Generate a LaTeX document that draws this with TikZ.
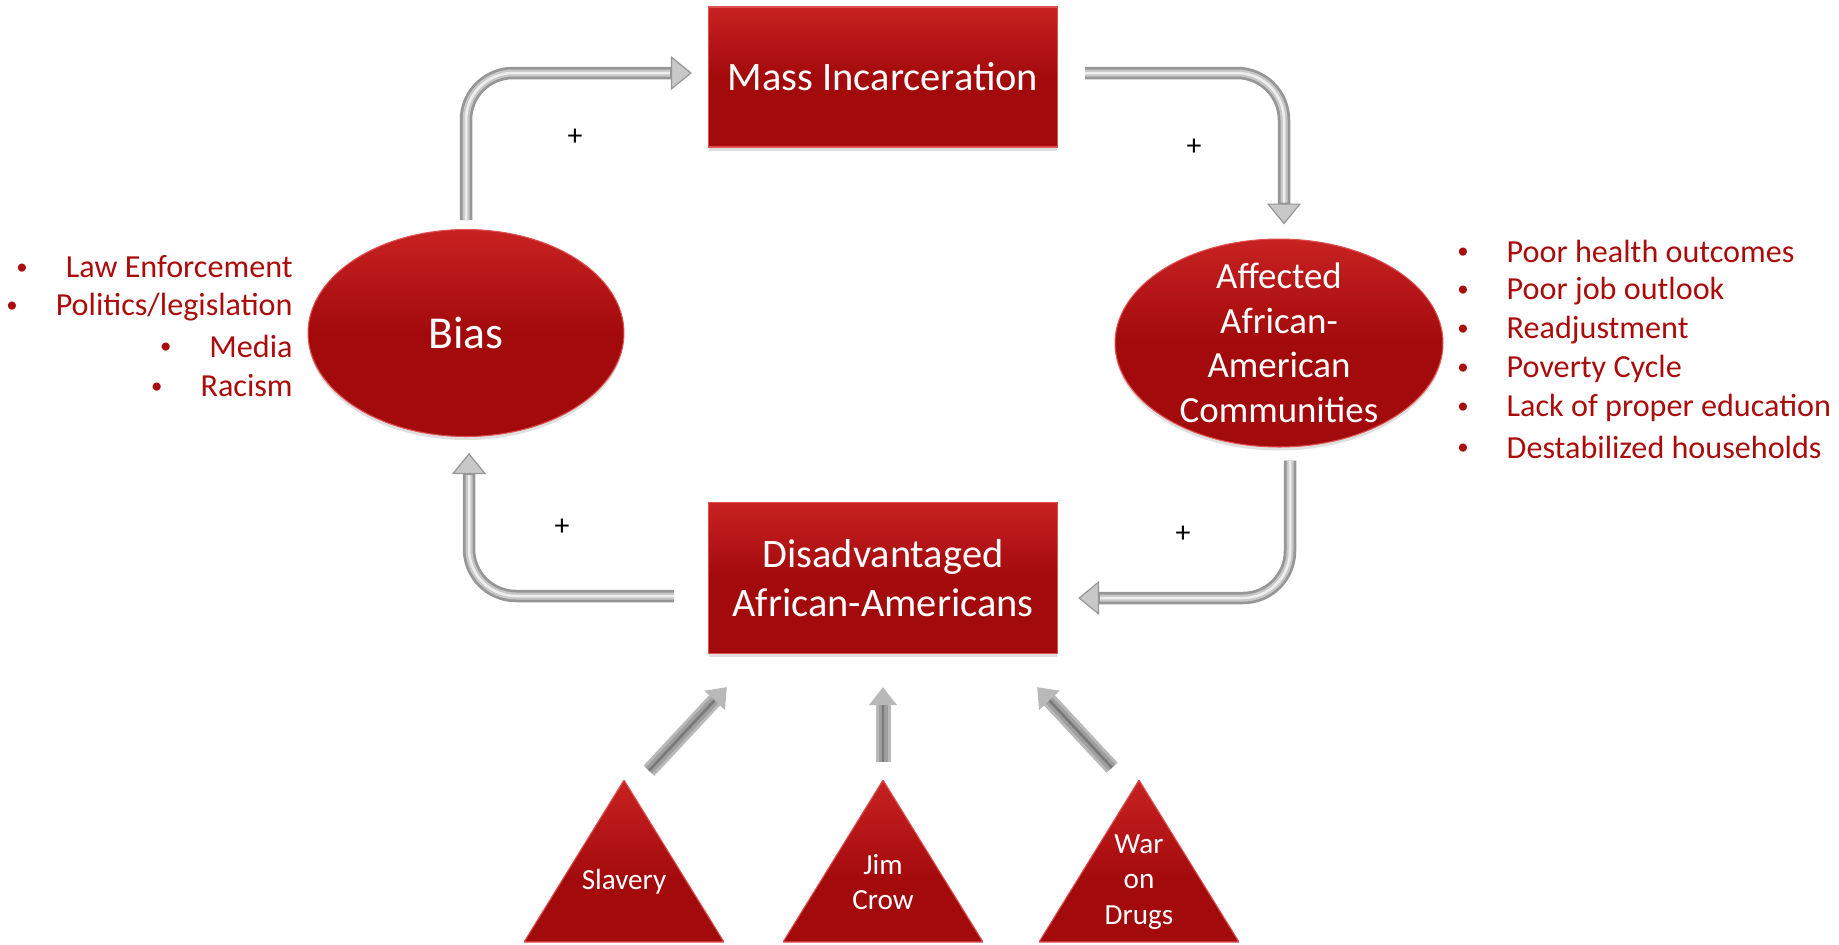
\documentclass[tikz,border=0pt]{standalone}
\usepackage{fontspec}
\setmainfont{Carlito}
\usetikzlibrary{arrows.meta,shapes.geometric,shadows}

\definecolor{boxred}{RGB}{163,10,12}
\definecolor{boxlight}{RGB}{200,34,34}
\definecolor{boxedge}{RGB}{225,80,80}
\definecolor{listred}{RGB}{170,12,12}
\definecolor{flowdk}{RGB}{150,150,150}
\definecolor{flowmid}{RGB}{200,200,200}
\definecolor{flowhi}{RGB}{238,238,238}
\definecolor{feeddk}{RGB}{120,120,120}
\definecolor{feedmid}{RGB}{158,158,158}
\definecolor{feedhi}{RGB}{185,185,185}

\newcommand{\blt}{\raisebox{0.1em}{\fontsize{13}{13}\selectfont\textbullet}\hspace{0.76cm}}

\tikzset{
  redbox/.style={rectangle, minimum width=6.98cm, minimum height=2.8cm, inner sep=0pt,
    top color=boxlight, bottom color=boxred, middle color=boxred, draw=boxedge, line width=0.8pt,
    text=white, align=center, drop shadow={opacity=0.25, shadow xshift=0pt, shadow yshift=-2pt}},
  redoval/.style={ellipse, inner sep=0pt, inner ysep=-0.6cm,
    top color=boxlight, bottom color=boxred, middle color=boxred, draw=boxedge, line width=0.6pt,
    text=white, align=center, drop shadow={opacity=0.25, shadow xshift=0pt, shadow yshift=-2pt}},
  redtri/.style={rectangle, minimum width=4cm, minimum height=4.08cm, inner sep=0pt,
    text=white, align=center, font=\fontsize{16.6}{20.4}\selectfont,
    path picture={\shade[top color=boxlight, bottom color=boxred, middle color=boxred,
      draw=boxedge, line width=0.6pt]
      (path picture bounding box.north) -- ([shift={(100,60)}]path picture bounding box.center)
      -- ([shift={(-100,60)}]path picture bounding box.center) -- cycle;}},
  flow/.style={rounded corners=0.94cm, line width=0.14cm, draw=flowmid, shorten >=0.44cm,
    preaction={draw=flowdk, line width=0.25cm, shorten >=0pt,
      -{Triangle[width=0.68cm,length=0.42cm,line width=0.7pt,fill=flowmid]}},
    postaction={draw=flowhi, line width=0.05cm, shorten >=0.44cm}},
  feed/.style={line width=0.18cm, draw=feedmid, shorten >=0.36cm,
    preaction={draw=feedhi, line width=0.3cm, shorten >=0pt,
      -{Triangle[width=0.56cm,length=0.36cm,line width=0.7pt,fill=feedhi]}},
    postaction={draw=feeddk, line width=0.05cm, shorten >=0.36cm}},
  plus/.style={font=\fontsize{17}{18}\selectfont, inner sep=0pt},
  item/.style={text=listred, font=\fontsize{18.3}{22}\selectfont, inner sep=0pt},
}

\begin{document}
\begin{tikzpicture}[x=0.02cm, y=-0.02cm]
\useasboundingbox (0,0) rectangle (1839,944);
% main cycle
\node[redbox, font=\fontsize{23}{28}\selectfont] (mass) at (883,77) {Mass Incarceration};
\node[redbox, minimum height=3.02cm, font=\fontsize{23}{28}\selectfont] (dis) at (883,578) {Disadvantaged\\African-Americans};
\node[redoval, minimum width=6.32cm, minimum height=4.14cm, font=\fontsize{26}{30}\selectfont] (bias) at (466,333) {Bias};
\node[redoval, minimum width=6.56cm, minimum height=4.16cm, font=\fontsize{21}{25.4}\selectfont] (aff) at (1279,343) {Affected\\African-\\American\\Communities};
% root causes
\node[redtri] (slav) at (624,882) {Slavery};
\node[redtri] (jim) at (883,882) {Jim\\Crow};
\node[redtri] (war) at (1139,882) {War\\on\\Drugs};
% loop arrows
\draw[flow]([shift={(0,-9)}]bias.north) |- ([shift={(-16,-4)}]mass.west);
\draw[flow]([shift={(27,-4)}]mass.east) -| ([shift={(5,-14)}]aff.north);
\draw[flow]([shift={(11,13)}]aff.south) |- ([shift={(20,20)}]dis.east);
\draw[flow]([shift={(-34,18)}]dis.west) -| ([shift={(3,16)}]bias.south);
\draw[feed]([shift={(25,-9)}]slav.north) -- ([shift={(19,33)}]dis.south west);
\draw[feed]([shift={(0,-18)}]jim.north) -- ([shift={(0,33)}]dis.south);
\draw[feed]([shift={(-27,-12)}]war.north) -- ([shift={(-21,33)}]dis.south east);
% signs
\node[plus] (p1) at (575,137) {+};
\node[plus] (p2) at (1194,147) {+};
\node[plus] (p3) at (562,527) {+};
\node[plus] (p4) at (1183,534) {+};
% bias factors
\node[item, anchor=east] (law) at (293,267) {\blt Law Enforcement};
\node[item, anchor=east] (pol) at (293,307) {\blt Politics/legislation};
\node[item, anchor=east] (med) at (293,346) {\blt Media};
\node[item, anchor=east] (rac) at (293,386) {\blt Racism};
% effects
\node[item, anchor=west] (hea) at (1457,251) {\blt Poor health outcomes};
\node[item, anchor=west] (job) at (1457,291) {\blt Poor job outlook};
\node[item, anchor=west] (rea) at (1457,330) {\blt Readjustment};
\node[item, anchor=west] (pov) at (1457,369) {\blt Poverty Cycle};
\node[item, anchor=west] (edu) at (1457,408) {\blt Lack of proper education};
\node[item, anchor=west] (hou) at (1457,447) {\blt Destabilized households};
\end{tikzpicture}
\end{document}
